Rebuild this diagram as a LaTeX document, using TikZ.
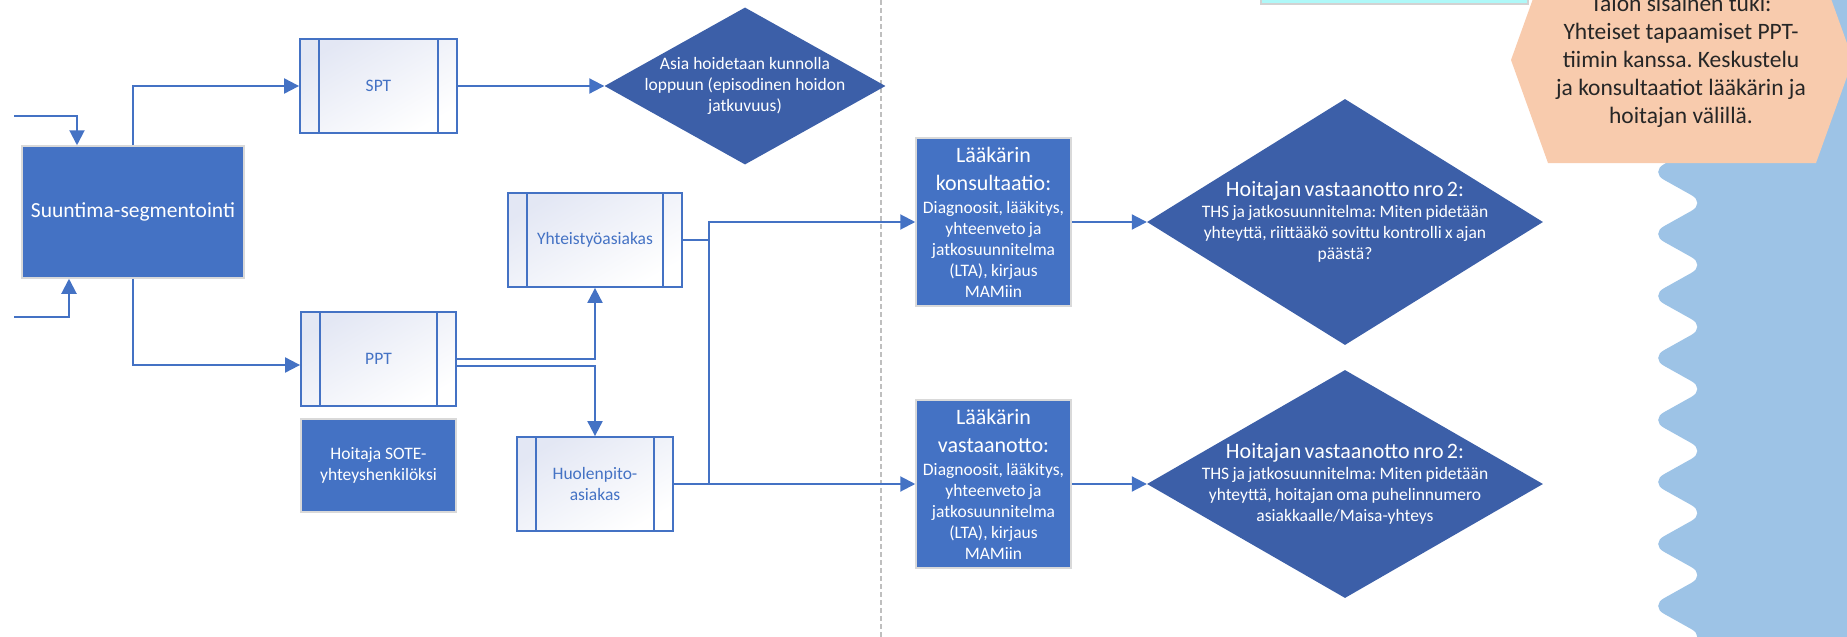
\documentclass[tikz,border=0pt]{standalone}
\usepackage{fontspec}
\setmainfont{Carlito}
\usetikzlibrary{arrows.meta,shapes.geometric}
\frenchspacing

\definecolor{flowblue}{HTML}{4472C4}
\definecolor{decblue}{HTML}{3C5FA8}
\definecolor{procshade}{HTML}{E3E7F4}
\definecolor{sepgray}{HTML}{BFBFBF}
\definecolor{hexfill}{HTML}{F8CBAD}
\definecolor{hextext}{HTML}{262626}
\definecolor{notefill}{HTML}{AFF8F8}
\definecolor{wavefill}{HTML}{9DC3E6}

\newcommand{\bodyfont}{\fontsize{17.5}{21}\selectfont}
\newcommand{\headfont}{\fontsize{22}{28}\selectfont}

\tikzset{
  conn/.style={draw=flowblue, line width=2pt},
  arr/.style={conn, -{Triangle[length=15pt,width=15pt]}},
  procbox/.style={rectangle, draw=flowblue, line width=1.8pt,
    top color=procshade, bottom color=white, shading angle=30,
    minimum height=94pt, inner sep=0pt, text=flowblue, align=center,
    font=\bodyfont,
    path picture={
      \draw[flowblue, line width=1.4pt]
        ([xshift=19pt]path picture bounding box.north west) --
        ([xshift=19pt]path picture bounding box.south west)
        ([xshift=-19pt]path picture bounding box.north east) --
        ([xshift=-19pt]path picture bounding box.south east);
    }},
  blockfill/.style={rectangle, fill=flowblue, draw=gray!30, line width=1.5pt,
    text=white, align=center, inner sep=2.5pt},
  decision/.style={diamond, fill=decblue, inner sep=0pt},
  dectext/.style={text=white, align=center, inner sep=0pt},
}

\begin{document}
\begin{tikzpicture}[x=1pt,y=-1pt]
\useasboundingbox (0,0) rectangle (1847,637);
\clip (0,0) rectangle (1847,637);

% right-hand background band and notes
\fill[wavefill, rounded corners=16pt]
  (1900,-45) -- (1705.5,-45) -- (1650,-14) -- (1705.5,17) -- (1650,48)
  -- (1705.5,79) -- (1650,110) -- (1705.5,141) -- (1650,172) -- (1705.5,203)
  -- (1650,234) -- (1705.5,265) -- (1650,296) -- (1705.5,327) -- (1650,358)
  -- (1705.5,389) -- (1650,420) -- (1705.5,451) -- (1650,482) -- (1705.5,513)
  -- (1650,544) -- (1705.5,575) -- (1650,606) -- (1705.5,637) -- (1650,668)
  -- (1705.5,699) -- (1900,699) -- cycle;
\fill[hexfill] (1511,60) -- (1548,-43) -- (1816,-43) -- (1853,60)
  -- (1816,163) -- (1548,163) -- cycle;
\node[text=hextext, align=center, font=\fontsize{23.5}{28}\selectfont]
  (hextxt) at (1681,61)
  {Talon sisäinen tuki:\\Yhteiset tapaamiset PPT-\\tiimin kanssa. Keskustelu\\ja konsultaatiot lääkärin ja\\hoitajan välillä.};
\filldraw[fill=notefill, draw=gray!35, line width=1.5pt] (1261,-40) rectangle (1528,4);

% separator
\draw[sepgray, line width=2pt, dash pattern=on 5pt off 3pt] (881,0) -- (881,637);

% left part
\node[blockfill, minimum width=222pt, minimum height=132pt,
  font=\fontsize{21.5}{26}\selectfont] (seg) at (133,212) {Suuntima-segmentointi};
\node[procbox, minimum width=157pt] (spt) at (378.5,86) {SPT};
\node[procbox, minimum width=155pt] (ppt) at (378.5,359) {PPT};
\node[blockfill, minimum width=155pt, minimum height=93pt, font=\bodyfont]
  (sote) at (378.5,465.5) {Hoitaja SOTE-\\yhteyshenkilöksi};
\node[procbox, minimum width=174pt] (yht) at (595,240) {Yhteistyöasiakas};
\node[procbox, minimum width=156pt] (huol) at (595,484) {Huolenpito-\\asiakas};

\node[decision, minimum width=281pt, minimum height=157pt] (dia1) at (745,86) {};
\node[dectext, font=\fontsize{17.5}{21}\selectfont] (dia1txt) at (dia1.center)
  {Asia hoidetaan kunnolla\\loppuun (episodinen hoidon\\jatkuvuus)};

% right part
\node[blockfill, minimum width=155pt, minimum height=168pt, text width=150pt,
  inner sep=2.5pt] (lk) at (993.5,222)
  {{\headfont Lääkärin\\konsultaatio:\par}\vspace{2pt}{\bodyfont Diagnoosit, lääkitys,\\yhteenveto ja\\jatkosuunnitelma\\(LTA), kirjaus\\MAMiin\par}};
\node[blockfill, minimum width=155pt, minimum height=168pt, text width=150pt,
  inner sep=2.5pt] (lv) at (993.5,484)
  {{\headfont Lääkärin\\vastaanotto:\par}\vspace{2pt}{\bodyfont Diagnoosit, lääkitys,\\yhteenveto ja\\jatkosuunnitelma\\(LTA), kirjaus\\MAMiin\par}};

\node[decision, minimum width=396pt, minimum height=246pt] (dia2) at (1345,222) {};
\node[dectext, text width=360pt] (dia2txt) at (dia2.center)
  {{\headfont Hoitajan vastaanotto nro 2:\par}{\bodyfont THS ja jatkosuunnitelma: Miten pidetään\\yhteyttä, riittääkö sovittu kontrolli x ajan\\päästä?\par}};
\node[decision, minimum width=396pt, minimum height=228pt] (dia3) at (1345,484) {};
\node[dectext, text width=360pt] (dia3txt) at (dia3.center)
  {{\headfont Hoitajan vastaanotto nro 2:\par}{\bodyfont THS ja jatkosuunnitelma: Miten pidetään\\yhteyttä, hoitajan oma puhelinnumero\\asiakkaalle/Maisa-yhteys\par}};

% connectors
\coordinate (in1) at (14,116);
\coordinate (in2) at (14,317);
\coordinate (jx) at (709,0);
\draw[arr] (in1) -| ([xshift=-56pt]seg.north);
\draw[arr] (in2) -| ([xshift=-64pt]seg.south);
\draw[arr] (seg.north) |- (spt.west);
\draw[arr] (seg.south) |- ([yshift=-6pt]ppt.west);
\draw[arr] (spt.east) -- (dia1.west);
\draw[arr] (ppt.east) -| (yht.south);
\draw[arr] ([yshift=-7pt]ppt.east) -| (huol.north);
\draw[arr] (yht.east) -| (jx |- lk.west) -- (lk.west);
\draw[conn] (jx |- lk.west) -- (jx |- lv.west);
\draw[arr] (huol.east) -- (lv.west);
\draw[arr] (lk.east) -- (dia2.west);
\draw[arr] (lv.east) -- (dia3.west);
\end{tikzpicture}
\end{document}
